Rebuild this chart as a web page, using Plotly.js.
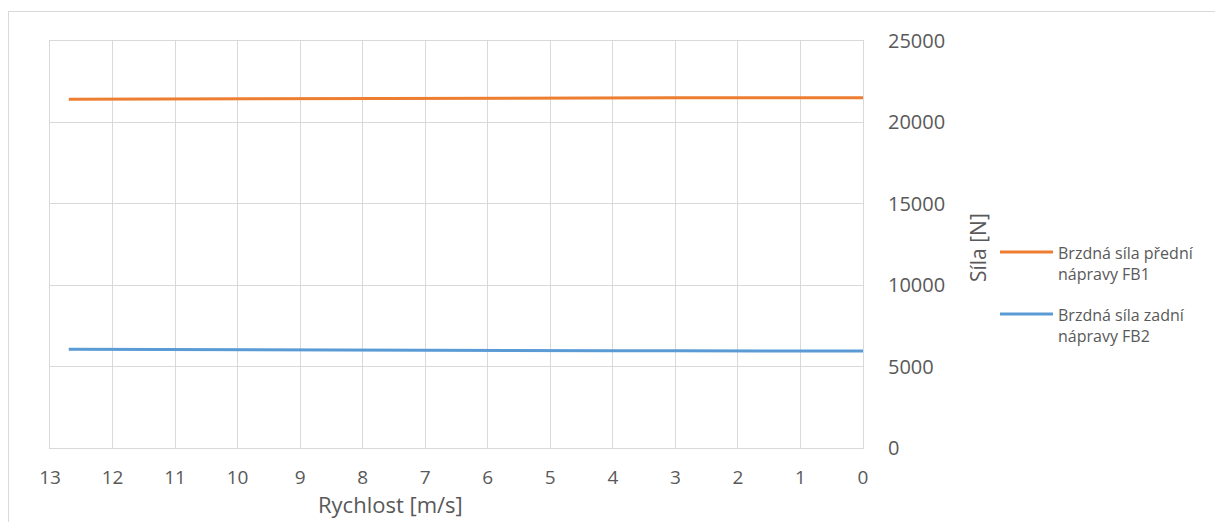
<!DOCTYPE html>
<html>
<head>
<meta charset="utf-8">
<script src="https://cdn.plot.ly/plotly-3.0.1.min.js"></script>
<style>
  html, body { margin: 0; padding: 0; background: #ffffff; }
  #wrap { position: relative; width: 1215px; height: 522px; overflow: hidden; }
  #chart { position: absolute; left: 0; top: 0; width: 1215px; height: 522px; }
  #frame { position: absolute; left: 8px; top: 11px; width: 1300px; height: 600px;
           border-left: 1px solid #d9d9d9; border-top: 1px solid #d9d9d9; pointer-events: none; }
</style>
</head>
<body>
<div id="wrap">
  <div id="chart"></div>
  <div id="frame"></div>
</div>
<script>
// Data
const speed = [12.7, 12, 11, 10, 9, 8, 7, 6, 5, 4, 3, 2, 1, 0];
const forceFront = [21420, 21430, 21445, 21458, 21470, 21480, 21490, 21497, 21503, 21508, 21511, 21513, 21515, 21515];
const forceRear  = [6060, 6050, 6035, 6022, 6010, 6000, 5990, 5982, 5975, 5970, 5966, 5963, 5961, 5960];
const seriesNames = ["Brzdná síla přední<br>nápravy FB1", "Brzdná síla zadní<br>nápravy FB2"];
const xTitle = "Rychlost [m/s]";
const yTitle = "Síla [N]";
const xTicks = [13, 12, 11, 10, 9, 8, 7, 6, 5, 4, 3, 2, 1, 0];
const yTicks = [0, 5000, 10000, 15000, 20000, 25000];

const colors = ["#ED7D31", "#5B9BD5"];
const textColor = "#595959";
const fontFam = "'Open Sans', 'Noto Sans', sans-serif";

const traces = [
  { x: speed, y: forceFront, name: seriesNames[0], type: "scatter", mode: "lines",
    line: { color: colors[0], width: 3 } },
  { x: speed, y: forceRear, name: seriesNames[1], type: "scatter", mode: "lines",
    line: { color: colors[1], width: 3 } }
];

// legend placement (paper coords)
const legX0 = 1.1685, legX1 = 1.2337, legTX = 1.2386;
const legY = [0.4816, 0.3292];

const shapes = legY.map((y, i) => ({
  type: "line", xref: "paper", yref: "paper", x0: legX0, x1: legX1, y0: y, y1: y,
  line: { color: colors[i], width: 3 }
}));

const annotations = [
  { text: xTitle, xref: "paper", yref: "paper", x: 0.4194, y: -0.1376,
    xanchor: "center", yanchor: "middle", showarrow: false, borderpad: 0,
    font: { family: fontFam, size: 22, color: textColor } },
  { text: yTitle, xref: "paper", yref: "paper", x: 1.1415, y: 0.4914, textangle: -90,
    xanchor: "center", yanchor: "middle", showarrow: false,
    font: { family: fontFam, size: 21, color: textColor } }
].concat(legY.map((y, i) => ({
  text: seriesNames[i], xref: "paper", yref: "paper", x: legTX, y: y + 0.028,
  xanchor: "left", yanchor: "top", align: "left", showarrow: false, borderpad: 0,
  font: { family: fontFam, size: 16, color: textColor }
})));

const layout = {
  width: 1215, height: 522,
  margin: { l: 50, r: 352, t: 41, b: 74, pad: 0 },
  paper_bgcolor: "#ffffff", plot_bgcolor: "#ffffff",
  showlegend: false,
  font: { family: fontFam, color: textColor },
  xaxis: {
    range: [13, 0], tickvals: xTicks, ticktext: xTicks.map(String),
    showgrid: true, gridcolor: "#d9d9d9", gridwidth: 1,
    showline: true, linecolor: "#d9d9d9", linewidth: 1, mirror: true,
    zeroline: false, ticks: "", ticklabelstandoff: 12,
    tickfont: { family: fontFam, size: 19, color: textColor }
  },
  yaxis: {
    range: [0, 25000], tickvals: yTicks, ticktext: yTicks.map(String), side: "right",
    showgrid: true, gridcolor: "#d9d9d9", gridwidth: 1,
    showline: true, linecolor: "#d9d9d9", linewidth: 1, mirror: true,
    zeroline: false, ticks: "", ticklabelstandoff: 20,
    tickfont: { family: fontFam, size: 20, color: textColor }
  },
  shapes: shapes,
  annotations: annotations
};

Plotly.newPlot("chart", traces, layout, { displayModeBar: false, staticPlot: true });
</script>
</body>
</html>
